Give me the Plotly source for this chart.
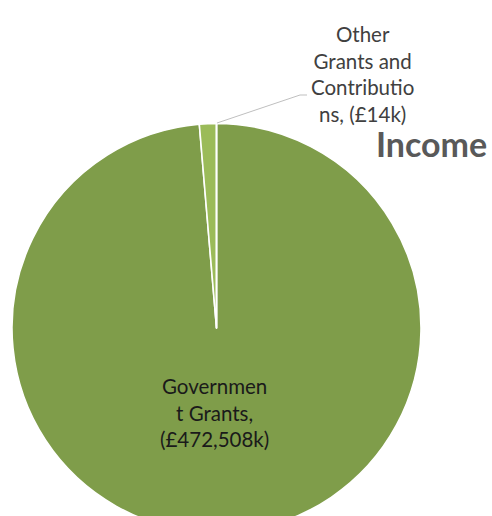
import plotly.graph_objects as go

# ---- data ----
categories = ["Government Grants", "Other Income", "Other Grants and Contributions"]
values_k = [472508, 6400, 14]
slice_colors = ["#7F9D4A", "#9BBB59", "#C3D69B"]
# wrapped display labels (as in the original chart)
label_gov = "Governmen<br>t Grants,<br>(£{:,}k)".format(values_k[0])
label_other = "Other<br>Grants and<br>Contributio<br>ns, (£{:,}k)".format(values_k[2])
title_text = "Income"

W, H = 492, 545

fig = go.Figure(go.Pie(
    labels=categories,
    values=values_k,
    sort=False,
    direction="clockwise",
    rotation=0,
    textinfo="none",
    hoverinfo="label+value",
    marker=dict(colors=slice_colors, line=dict(color="white", width=1.6)),
    domain=dict(x=[12 / W, 421 / W], y=[(H - 532.5) / H, (H - 123.5) / H]),
    showlegend=False,
))

def px(x, y):
    return x / W, 1 - y / H

ax, ay = px(214.5, 412.5)
bx, by = px(362, 74)
tx, ty = px(431.5, 143.5)

fig.update_layout(
    width=W, height=H,
    margin=dict(l=0, r=0, t=0, b=0),
    paper_bgcolor="white", plot_bgcolor="white",
    annotations=[
        dict(text=label_gov, x=ax, y=ay, xref="paper", yref="paper",
             showarrow=False, xanchor="center", yanchor="middle",
             font=dict(family="Lato", size=20.5, color="#1a1a1a")),
        dict(text=label_other, x=bx, y=by, xref="paper", yref="paper",
             showarrow=False, xanchor="center", yanchor="middle",
             font=dict(family="Lato", size=20.5, color="#404040")),
        dict(text="<b>" + title_text + "</b>", x=tx, y=ty, xref="paper", yref="paper",
             showarrow=False, xanchor="center", yanchor="middle",
             font=dict(family="Lato", size=34, color="#595959")),
    ],
    shapes=[
        dict(type="path", xref="paper", yref="paper",
             path="M {} {} L {} {} L {} {}".format(*px(217, 123), *px(300, 95), *px(307, 95)),
             line=dict(color="#BFBFBF", width=1)),
    ],
)

fig.write_html("out.html", config={"displayModeBar": False},
               post_script="document.documentElement.style.overflow='hidden';document.body.style.overflow='hidden';")
